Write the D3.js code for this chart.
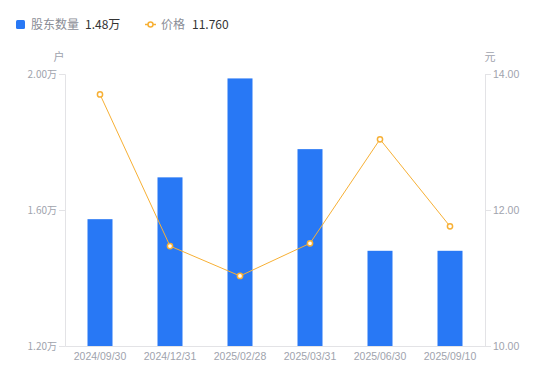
<!DOCTYPE html>
<html><head><meta charset="utf-8">
<script src="https://cdn.jsdelivr.net/npm/d3@7"></script>
<style>body{margin:0;background:#fff;font-family:"Noto Sans CJK SC","Noto Sans",sans-serif;}</style>
</head><body><svg id="c" width="550" height="381"></svg>
<script>
const categories = ["2024/09/30","2024/12/31","2025/02/28","2025/03/31","2025/06/30","2025/09/10"];
const holders = [1.573, 1.696, 1.987, 1.779, 1.48, 1.48]; // 万户
const prices = [13.70, 11.47, 11.03, 11.51, 13.04, 11.76];
const leftTicks = [1.2, 1.6, 2.0];
const rightTicks = [10, 12, 14];
const legendNames = ["股东数量", "价格"];
const legendValues = ["1.48万", "11.760"];

const svg = d3.select("#c");
const L = 65, R = 485, T = 74, B = 346;
const x = d3.scaleBand().domain(categories).range([L, R]);
const yL = d3.scaleLinear().domain([1.2, 2.0]).range([B, T]);
const yR = d3.scaleLinear().domain([10, 14]).range([B, T]);
const gray = "#a0a3ad", axisC = "#e3e3e6", blue = "#2878f5", orange = "#f7b035";

// axes
const axL = svg.append("g").attr("transform", `translate(${L},0)`)
  .call(d3.axisLeft(yL).tickValues(leftTicks).tickFormat(d => d.toFixed(2) + "万").tickSize(6).tickPadding(2));
const axR = svg.append("g").attr("transform", `translate(${R},0)`)
  .call(d3.axisRight(yR).tickValues(rightTicks).tickFormat(d => d.toFixed(2)).tickSize(6).tickPadding(2));
const axB = svg.append("g").attr("transform", `translate(0,${B})`)
  .call(d3.axisBottom(x).tickSize(0).tickPadding(7));
[axL, axR, axB].forEach(g => {
  g.select(".domain").attr("stroke", axisC);
  g.selectAll(".tick line").attr("stroke", axisC);
  g.selectAll("text").attr("fill", gray).attr("font-size", 10.5).attr("font-family", "Liberation Sans, Arial, sans-serif");
});
axL.selectAll("text").attr("font-family", "Noto Sans CJK SC, sans-serif").attr("font-size", 10);
svg.append("text").attr("x", 59).attr("y", 61).attr("text-anchor", "middle").attr("fill", gray).attr("font-size", 11).text("户");
svg.append("text").attr("x", 490).attr("y", 61).attr("text-anchor", "middle").attr("fill", gray).attr("font-size", 11).text("元");

// bars
const bw = 25;
svg.append("g").selectAll("rect").data(categories).join("rect")
  .attr("x", d => x(d) + x.bandwidth() / 2 - bw / 2)
  .attr("y", (d, i) => yL(holders[i]))
  .attr("width", bw)
  .attr("height", (d, i) => B - yL(holders[i]))
  .attr("fill", blue);

// line
const line = d3.line().x((d, i) => x(categories[i]) + x.bandwidth() / 2).y(d => yR(d));
svg.append("path").datum(prices).attr("d", line).attr("fill", "none").attr("stroke", orange).attr("stroke-width", 1);
svg.append("g").selectAll("circle").data(prices).join("circle")
  .attr("cx", (d, i) => x(categories[i]) + x.bandwidth() / 2)
  .attr("cy", d => yR(d)).attr("r", 2.6)
  .attr("fill", "#fff").attr("stroke", orange).attr("stroke-width", 1.5);

// legend
const lg = svg.append("g");
lg.append("rect").attr("x", 16).attr("y", 20).attr("width", 9).attr("height", 9).attr("rx", 1.5).attr("fill", blue);
lg.append("text").attr("x", 31).attr("y", 29).attr("fill", "#8a8d96").attr("font-size", 12).text(legendNames[0]);
lg.append("text").attr("x", 85).attr("y", 29).attr("fill", "#333").attr("font-size", 12).text(legendValues[0]);
lg.append("line").attr("x1", 145).attr("x2", 156).attr("y1", 24.5).attr("y2", 24.5).attr("stroke", orange).attr("stroke-width", 1.5);
lg.append("circle").attr("cx", 150.5).attr("cy", 24.5).attr("r", 2.5).attr("fill", "#fff").attr("stroke", orange).attr("stroke-width", 1.5);
lg.append("text").attr("x", 161).attr("y", 29).attr("fill", "#8a8d96").attr("font-size", 12).text(legendNames[1]);
lg.append("text").attr("x", 192).attr("y", 29).attr("fill", "#333").attr("font-size", 12).text(legendValues[1]);
</script></body></html>
